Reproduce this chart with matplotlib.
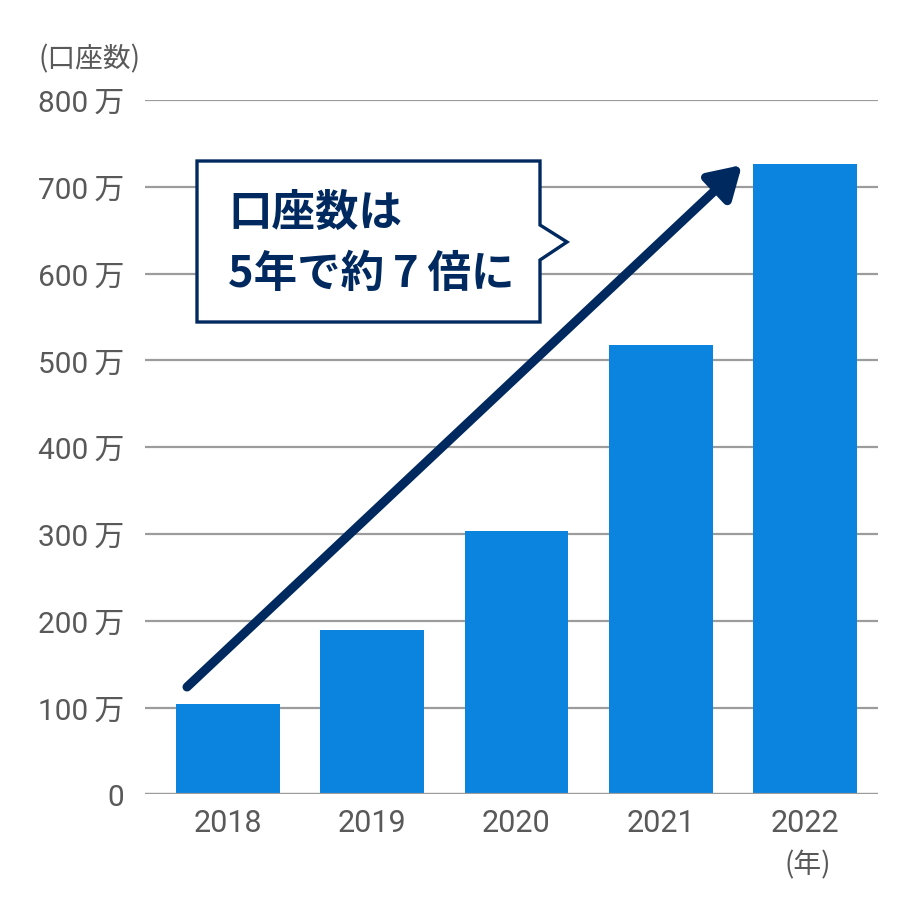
import matplotlib
matplotlib.use("Agg")
import matplotlib.pyplot as plt
from matplotlib.patches import Polygon

years = ["2018", "2019", "2020", "2021", "2022"]
accounts = [104, 189, 303, 518, 726]   # 万口座
yticks = [0, 100, 200, 300, 400, 500, 600, 700, 800]
ytick_labels = ["0"] + [f"{v}\u2009万" for v in yticks[1:]]

BAR = "#0b84e0"
NAVY = "#00295f"
GRID = "#9c9c9c"
TXT = "#595959"
FONT = ["Roboto", "Noto Sans CJK JP", "DejaVu Sans"]
plt.rcParams["font.family"] = FONT

W = H = 920
fig = plt.figure(figsize=(9.2, 9.2), dpi=100)


def fx(px):
    return px / W


def fy(py):
    return 1 - py / H


ax = fig.add_axes([fx(145), fy(795.4), fx(878) - fx(145), fy(101) - fy(795.4)])

xs = list(range(len(years)))
ax.bar(xs, accounts, width=0.72, color=BAR, zorder=2)
ax.set_ylim(0, 800)
ax.set_xlim(-0.575, 4.506)

ax.set_yticks(yticks)
ax.set_yticklabels(ytick_labels)
ax.set_xticks(xs)
ax.set_xticklabels(years)
ax.tick_params(axis="y", length=0, pad=15, labelsize=21.5, labelcolor=TXT)
ax.tick_params(axis="x", length=0, pad=10, labelsize=22, labelcolor=TXT)

ax.grid(axis="y", color=GRID, linewidth=1.6, zorder=0)
for s in ax.spines.values():
    s.set_visible(False)
ax.axhline(0, color=GRID, linewidth=1.6, zorder=3)

# unit labels
fig.text(fx(39), fy(59), "(口座数)", ha="left", va="center", fontsize=20,
         color=TXT, family=["Noto Sans CJK JP"])
fig.text(fx(808), fy(865), "(年)", ha="center", va="center", fontsize=20,
         color=TXT, family=["Noto Sans CJK JP"])

# growth arrow
ax.annotate("", xy=(fx(742), fy(166)), xytext=(fx(187), fy(688)),
            xycoords="figure fraction", textcoords="figure fraction",
            arrowprops=dict(arrowstyle="-|>,head_length=1.9,head_width=1.15",
                            color=NAVY, lw=6.5, shrinkA=0, shrinkB=0),
            zorder=5)

# callout box
pts = [(197, 162), (540, 162), (540, 226), (567, 243), (540, 261),
       (540, 323), (197, 323)]
box = Polygon([(fx(a), fy(b)) for a, b in pts], closed=True,
              transform=fig.transFigure, facecolor="white", edgecolor=NAVY,
              linewidth=2.4, zorder=6)
fig.patches.append(box)
callout_fam = ["Noto Sans CJK JP", "Roboto"]
fig.text(fx(228), fy(213), "口座数は", ha="left", va="center", fontsize=31.3,
         fontweight="bold", color=NAVY, zorder=7, family=callout_fam)
fig.text(fx(228), fy(274), "5年で約\u20097\u2009倍に", ha="left", va="center",
         fontsize=31.3, fontweight="bold", color=NAVY, zorder=7,
         family=callout_fam)

fig.savefig("out.png", dpi=100, facecolor="white")
